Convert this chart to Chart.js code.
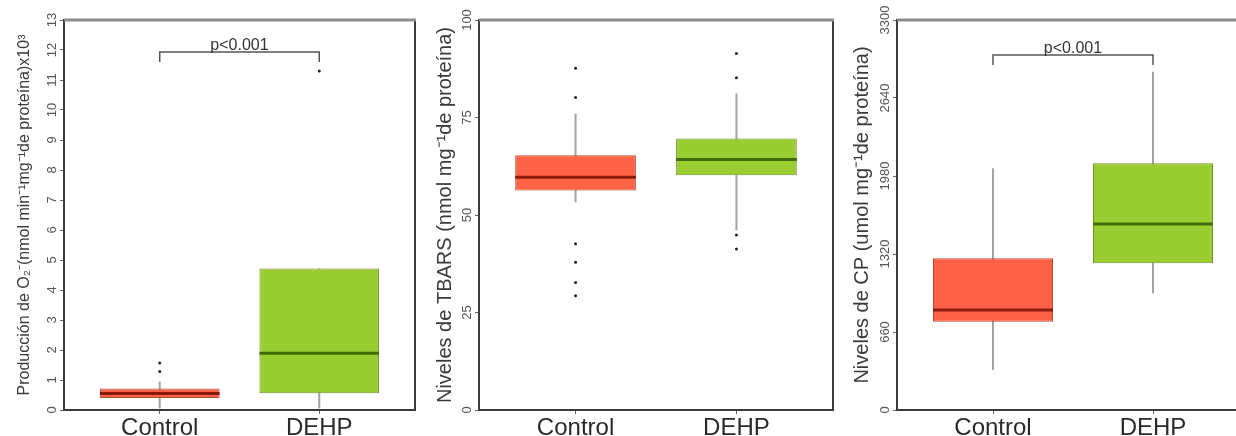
<!DOCTYPE html>
<html>
<head>
<meta charset="utf-8">
<script src="https://cdn.jsdelivr.net/npm/chart.js@4.4.1/dist/chart.umd.min.js"></script>
<style>
  body { margin: 0; background: #fff; width: 1236px; height: 436px; overflow: hidden; position: relative; }
  .panel { position: absolute; top: 0; width: 420px; height: 436px; }
</style>
</head>
<body>
<div class="panel" style="left:0"><canvas id="c1"></canvas></div>
<div class="panel" style="left:420px"><canvas id="c2"></canvas></div>
<div class="panel" style="left:840px"><canvas id="c3"></canvas></div>
<script>
var groups = ['Control', 'DEHP'];

// cajas: [mínimo, Q1, mediana, Q3, máximo]
var o2Control = [0.05, 0.40, 0.55, 0.72, 0.95];
var o2Dehp = [0.05, 0.56, 1.89, 4.72, 4.72];
var o2OutControl = [1.28, 1.57];
var o2OutDehp = [11.3];
var o2Bracket = [11.6, 11.93];
var o2Axis = [0, 13, 1];

var tbarsControl = [53.3, 56.3, 59.7, 65.3, 76];
var tbarsDehp = [46, 60.2, 64.2, 69.6, 81.2];
var tbarsOutControl = [87.6, 80.1, 42.6, 37.9, 32.7, 29.3];
var tbarsOutDehp = [91.4, 85.2, 44.9, 41.3];
var tbarsAxis = [0, 100, 25];

var cpControl = [338, 747, 846, 1283, 2045];
var cpDehp = [987, 1241, 1574, 2087, 2862];
var cpBracket = [2919, 3003];
var cpAxis = [0, 3300, 660];

var fills = ['#FF6347', '#9ACD32'];
var edges = ['#b4472f', '#6f8f2c'];
var medians = ['#8b1a0c', '#3f6b0a'];
var FONT = '"Liberation Sans", Arial, sans-serif';
var BOX_W = 0.75;

/*
 * Texto de ejes, marco y p-valor
 */
var axisText = {
    id: 'axisText',
    afterDraw: function (chart, args, o) {
        var ctx = chart.ctx, a = chart.chartArea, ys = chart.scales.y, xs = chart.scales.x;
        ctx.save();
        ctx.strokeStyle = '#3c3c3c';
        ctx.lineWidth = 2;
        ctx.strokeRect(a.left, a.top, a.right - a.left, a.bottom - a.top);
        ctx.strokeStyle = '#8c8c8c';
        ctx.lineWidth = 3;
        ctx.beginPath();
        ctx.moveTo(a.left, a.top);
        ctx.lineTo(a.right + 1, a.top);
        ctx.stroke();

        ctx.fillStyle = '#555';
        ctx.font = '13px ' + FONT;
        ctx.textAlign = 'center';
        ctx.textBaseline = 'middle';
        ys.ticks.forEach(function (t) {
            ctx.save();
            ctx.translate(a.left - 12, ys.getPixelForValue(t.value));
            ctx.rotate(-Math.PI / 2);
            ctx.fillText(String(t.value), 0, 0);
            ctx.restore();
        });

        ctx.save();
        ctx.fillStyle = '#3a3a3a';
        ctx.font = o.titleSize + 'px ' + FONT;
        ctx.translate(o.titleX, (a.top + a.bottom) / 2);
        ctx.rotate(-Math.PI / 2);
        ctx.fillText(o.title, 0, 0);
        ctx.restore();

        if (o.bracket) {
            ctx.fillStyle = '#333';
            ctx.font = '16px ' + FONT;
            ctx.textBaseline = 'alphabetic';
            ctx.fillText('p<0.001', xs.getPixelForValue(1.5), ys.getPixelForValue(o.bracket[1]) - 2);
        }
        ctx.restore();
    }
};

function buildPanel(id, opt) {
    var boxes = [opt.control, opt.dehp];
    var outs = [opt.outControl || [], opt.outDehp || []];
    var whisk = [], bars = [], pts = [];
    boxes.forEach(function (b, i) {
        var x = i + 1;
        whisk.push({x: x, y: b[0]}, {x: x, y: b[4]}, {x: x, y: null});
        bars.push({x: x, y: [b[1], b[3]]});
        outs[i].forEach(function (v) { pts.push({x: x, y: v}); });
    });
    var datasets = [
        { type: 'line', data: whisk, borderColor: '#a3a3a3', borderWidth: 2, pointRadius: 0, order: 5 },
        { type: 'bar', data: bars, backgroundColor: fills, borderColor: edges, borderWidth: 1,
          borderSkipped: false, categoryPercentage: BOX_W, barPercentage: 1, order: 4 }
    ];
    boxes.forEach(function (b, i) {
        datasets.push({ type: 'line', order: 3, borderColor: medians[i], borderWidth: 3, pointRadius: 0,
            data: [{x: i + 1 - BOX_W / 2, y: b[2]}, {x: i + 1 + BOX_W / 2, y: b[2]}] });
    });
    datasets.push({ type: 'line', data: pts, showLine: false, pointRadius: 1.5,
        pointBackgroundColor: '#222', pointBorderWidth: 0, order: 2 });
    if (opt.bracket) {
        datasets.push({ type: 'line', order: 1, borderColor: '#555', borderWidth: 1.5, pointRadius: 0,
            data: [{x: 1, y: opt.bracket[0]}, {x: 1, y: opt.bracket[1]}, {x: 2, y: opt.bracket[1]}, {x: 2, y: opt.bracket[0]}] });
    }

    return new Chart(document.getElementById(id), {
        type: 'bar',
        data: { datasets: datasets },
        options: {
            responsive: true,
            maintainAspectRatio: false,
            animation: false,
            layout: { padding: { left: 0, right: opt.right, top: 20, bottom: 0 } },
            plugins: {
                legend: { display: false },
                tooltip: { enabled: false },
                axisText: { title: opt.title, titleSize: opt.titleSize, titleX: opt.titleX, bracket: opt.bracket }
            },
            scales: {
                x: {
                    type: 'linear', min: 0.4, max: 2.6, offset: false,
                    afterBuildTicks: function (s) { s.ticks = groups.map(function (g, i) { return {value: i + 1}; }); },
                    afterFit: function (s) { s.height = 26; },
                    ticks: { callback: function (v) { return groups[v - 1]; }, color: '#2a2a2a', padding: 0,
                             autoSkip: false, maxRotation: 0, font: { family: FONT, size: 24 } },
                    grid: { drawOnChartArea: false, offset: false, tickLength: 4, color: '#666' },
                    border: { display: false }
                },
                y: {
                    min: opt.axis[0], max: opt.axis[1],
                    afterFit: function (s) { s.width = opt.left; },
                    ticks: { display: false, stepSize: opt.axis[2] },
                    grid: { drawOnChartArea: false, tickLength: 4, color: '#666' },
                    border: { display: false }
                }
            }
        },
        plugins: [axisText]
    });
}

buildPanel('c1', { control: o2Control, dehp: o2Dehp, outControl: o2OutControl, outDehp: o2OutDehp,
    bracket: o2Bracket, axis: o2Axis, left: 64, right: 5, titleX: 25, titleSize: 16,
    title: 'Producción de O₂⁻(nmol min⁻¹mg⁻¹de proteína)x10³' });
buildPanel('c2', { control: tbarsControl, dehp: tbarsDehp, outControl: tbarsOutControl, outDehp: tbarsOutDehp,
    axis: tbarsAxis, left: 59, right: 7, titleX: 25, titleSize: 20,
    title: 'Niveles de TBARS (nmol mg⁻¹de proteína)' });
buildPanel('c3', { control: cpControl, dehp: cpDehp, bracket: cpBracket,
    axis: cpAxis, left: 57, right: 11, titleX: 22, titleSize: 20,
    title: 'Niveles de CP (umol mg⁻¹de proteína)' });
</script>
</body>
</html>
